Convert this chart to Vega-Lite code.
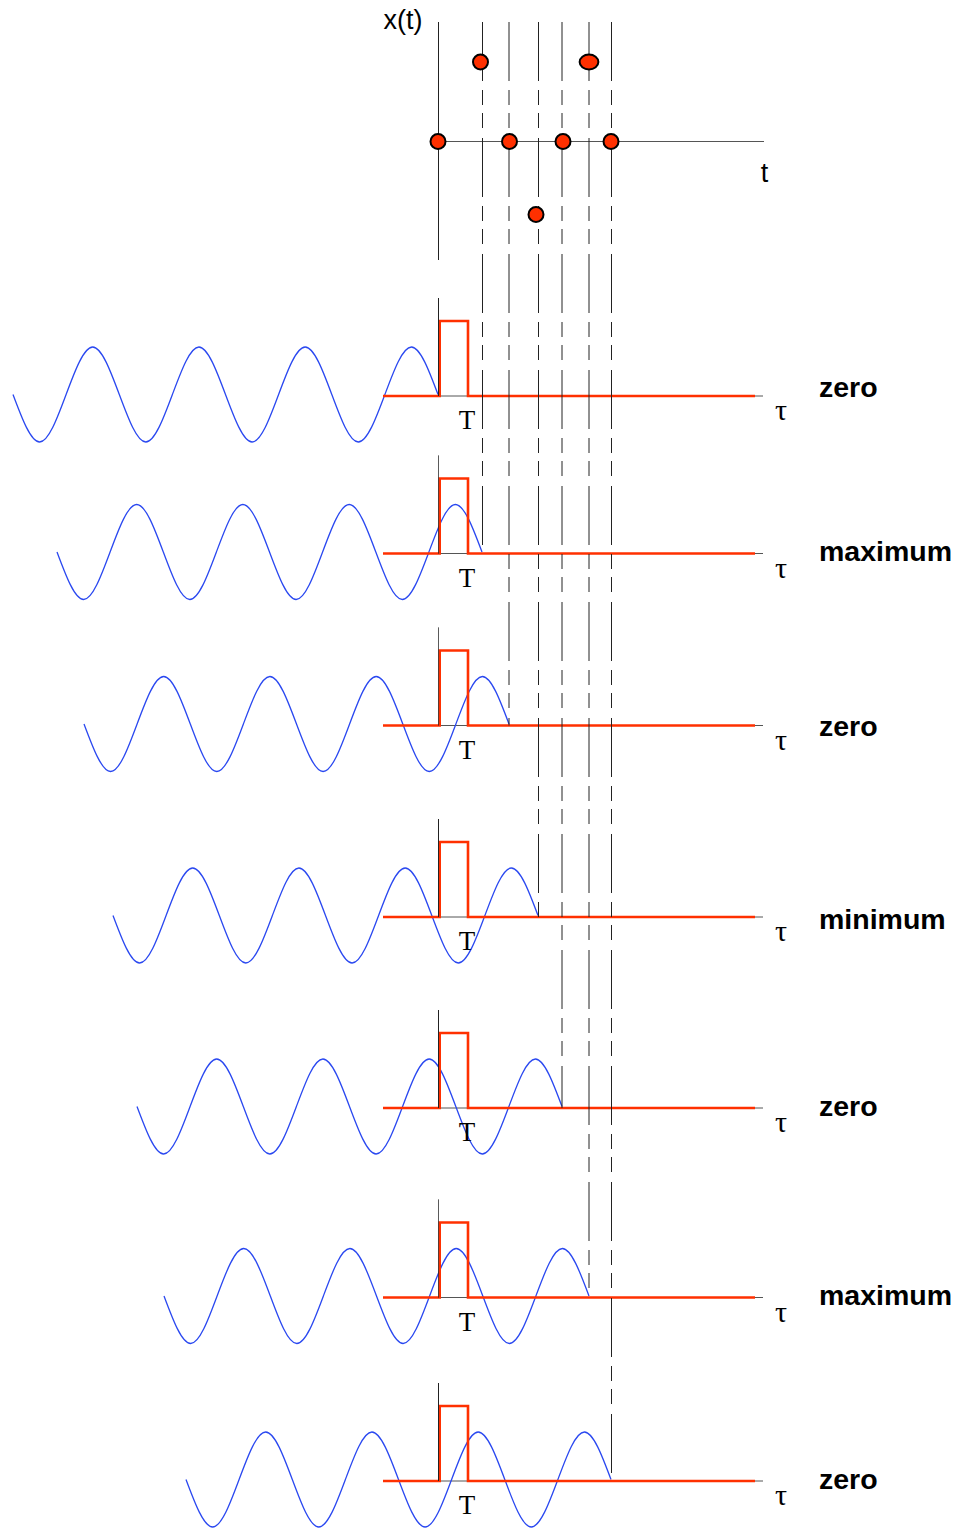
{
  "$schema": "https://vega.github.io/schema/vega-lite/v6.json",
  "width": 956,
  "height": 1528,
  "autosize": "none",
  "padding": 0,
  "background": "white",
  "config": {"view": {"stroke": null}},
  "datasets": {
    "hlines": [
      {"x": 430, "x2": 764, "y": 141.5, "y2": 141.5},
      {"x": 383, "x2": 763, "y": 396, "y2": 396},
      {"x": 383, "x2": 763, "y": 553.5, "y2": 553.5},
      {"x": 383, "x2": 763, "y": 725.5, "y2": 725.5},
      {"x": 383, "x2": 763, "y": 917, "y2": 917},
      {"x": 383, "x2": 763, "y": 1108, "y2": 1108},
      {"x": 383, "x2": 763, "y": 1297.5, "y2": 1297.5},
      {"x": 383, "x2": 763, "y": 1481, "y2": 1481}
    ],
    "vlines": [
      {"x": 438.5, "x2": 438.5, "y": 22, "y2": 260, "kind": "solid"},
      {"x": 438.5, "x2": 438.5, "y": 298, "y2": 396, "kind": "solid"},
      {"x": 438.5, "x2": 438.5, "y": 455.5, "y2": 553.5, "kind": "solid"},
      {"x": 438.5, "x2": 438.5, "y": 627.5, "y2": 725.5, "kind": "solid"},
      {"x": 438.5, "x2": 438.5, "y": 819, "y2": 917, "kind": "solid"},
      {"x": 438.5, "x2": 438.5, "y": 1010, "y2": 1108, "kind": "solid"},
      {"x": 438.5, "x2": 438.5, "y": 1199.5, "y2": 1297.5, "kind": "solid"},
      {"x": 438.5, "x2": 438.5, "y": 1383, "y2": 1481, "kind": "solid"},
      {"x": 482.5, "x2": 482.5, "y": 22, "y2": 553.5, "kind": "dashed"},
      {"x": 509, "x2": 509, "y": 22, "y2": 725.5, "kind": "dashed"},
      {"x": 538.5, "x2": 538.5, "y": 22, "y2": 917, "kind": "dashed"},
      {"x": 562, "x2": 562, "y": 22, "y2": 1108, "kind": "dashed"},
      {"x": 589, "x2": 589, "y": 22, "y2": 1297.5, "kind": "dashed"},
      {"x": 611.5, "x2": 611.5, "y": 22, "y2": 1481, "kind": "dashed"}
    ],
    "pulse": [
      {"r": 1, "i": 0, "x": 383, "y": 396}, {"r": 1, "i": 1, "x": 439.7, "y": 396}, {"r": 1, "i": 2, "x": 439.7, "y": 321}, {"r": 1, "i": 3, "x": 468, "y": 321}, {"r": 1, "i": 4, "x": 468, "y": 396}, {"r": 1, "i": 5, "x": 755, "y": 396},
      {"r": 2, "i": 0, "x": 383, "y": 553.5}, {"r": 2, "i": 1, "x": 439.7, "y": 553.5}, {"r": 2, "i": 2, "x": 439.7, "y": 478.5}, {"r": 2, "i": 3, "x": 468, "y": 478.5}, {"r": 2, "i": 4, "x": 468, "y": 553.5}, {"r": 2, "i": 5, "x": 755, "y": 553.5},
      {"r": 3, "i": 0, "x": 383, "y": 725.5}, {"r": 3, "i": 1, "x": 439.7, "y": 725.5}, {"r": 3, "i": 2, "x": 439.7, "y": 650.5}, {"r": 3, "i": 3, "x": 468, "y": 650.5}, {"r": 3, "i": 4, "x": 468, "y": 725.5}, {"r": 3, "i": 5, "x": 755, "y": 725.5},
      {"r": 4, "i": 0, "x": 383, "y": 917}, {"r": 4, "i": 1, "x": 439.7, "y": 917}, {"r": 4, "i": 2, "x": 439.7, "y": 842}, {"r": 4, "i": 3, "x": 468, "y": 842}, {"r": 4, "i": 4, "x": 468, "y": 917}, {"r": 4, "i": 5, "x": 755, "y": 917},
      {"r": 5, "i": 0, "x": 383, "y": 1108}, {"r": 5, "i": 1, "x": 439.7, "y": 1108}, {"r": 5, "i": 2, "x": 439.7, "y": 1033}, {"r": 5, "i": 3, "x": 468, "y": 1033}, {"r": 5, "i": 4, "x": 468, "y": 1108}, {"r": 5, "i": 5, "x": 755, "y": 1108},
      {"r": 6, "i": 0, "x": 383, "y": 1297.5}, {"r": 6, "i": 1, "x": 439.7, "y": 1297.5}, {"r": 6, "i": 2, "x": 439.7, "y": 1222.5}, {"r": 6, "i": 3, "x": 468, "y": 1222.5}, {"r": 6, "i": 4, "x": 468, "y": 1297.5}, {"r": 6, "i": 5, "x": 755, "y": 1297.5},
      {"r": 7, "i": 0, "x": 383, "y": 1481}, {"r": 7, "i": 1, "x": 439.7, "y": 1481}, {"r": 7, "i": 2, "x": 439.7, "y": 1406}, {"r": 7, "i": 3, "x": 468, "y": 1406}, {"r": 7, "i": 4, "x": 468, "y": 1481}, {"r": 7, "i": 5, "x": 755, "y": 1481}
    ],
    "waves": [
      {"r": 1, "i": 0, "x": 13, "y": 394.5}, {"r": 1, "i": 1, "x": 39.6, "y": 442}, {"r": 1, "i": 2, "x": 66.1, "y": 394.5}, {"r": 1, "i": 3, "x": 92.7, "y": 347}, {"r": 1, "i": 4, "x": 119.3, "y": 394.5}, {"r": 1, "i": 5, "x": 145.8, "y": 442}, {"r": 1, "i": 6, "x": 172.4, "y": 394.5}, {"r": 1, "i": 7, "x": 198.9, "y": 347}, {"r": 1, "i": 8, "x": 225.5, "y": 394.5}, {"r": 1, "i": 9, "x": 252.1, "y": 442}, {"r": 1, "i": 10, "x": 278.6, "y": 394.5}, {"r": 1, "i": 11, "x": 305.2, "y": 347}, {"r": 1, "i": 12, "x": 331.8, "y": 394.5}, {"r": 1, "i": 13, "x": 358.3, "y": 442}, {"r": 1, "i": 14, "x": 384.9, "y": 394.5}, {"r": 1, "i": 15, "x": 411.4, "y": 347}, {"r": 1, "i": 16, "x": 438, "y": 394.5},
      {"r": 2, "i": 0, "x": 57, "y": 552}, {"r": 2, "i": 1, "x": 83.6, "y": 599.5}, {"r": 2, "i": 2, "x": 110.1, "y": 552}, {"r": 2, "i": 3, "x": 136.7, "y": 504.5}, {"r": 2, "i": 4, "x": 163.3, "y": 552}, {"r": 2, "i": 5, "x": 189.8, "y": 599.5}, {"r": 2, "i": 6, "x": 216.4, "y": 552}, {"r": 2, "i": 7, "x": 242.9, "y": 504.5}, {"r": 2, "i": 8, "x": 269.5, "y": 552}, {"r": 2, "i": 9, "x": 296.1, "y": 599.5}, {"r": 2, "i": 10, "x": 322.6, "y": 552}, {"r": 2, "i": 11, "x": 349.2, "y": 504.5}, {"r": 2, "i": 12, "x": 375.8, "y": 552}, {"r": 2, "i": 13, "x": 402.3, "y": 599.5}, {"r": 2, "i": 14, "x": 428.9, "y": 552}, {"r": 2, "i": 15, "x": 455.4, "y": 504.5}, {"r": 2, "i": 16, "x": 482, "y": 552},
      {"r": 3, "i": 0, "x": 84, "y": 724}, {"r": 3, "i": 1, "x": 110.6, "y": 771.5}, {"r": 3, "i": 2, "x": 137.1, "y": 724}, {"r": 3, "i": 3, "x": 163.7, "y": 676.5}, {"r": 3, "i": 4, "x": 190.3, "y": 724}, {"r": 3, "i": 5, "x": 216.8, "y": 771.5}, {"r": 3, "i": 6, "x": 243.4, "y": 724}, {"r": 3, "i": 7, "x": 269.9, "y": 676.5}, {"r": 3, "i": 8, "x": 296.5, "y": 724}, {"r": 3, "i": 9, "x": 323.1, "y": 771.5}, {"r": 3, "i": 10, "x": 349.6, "y": 724}, {"r": 3, "i": 11, "x": 376.2, "y": 676.5}, {"r": 3, "i": 12, "x": 402.8, "y": 724}, {"r": 3, "i": 13, "x": 429.3, "y": 771.5}, {"r": 3, "i": 14, "x": 455.9, "y": 724}, {"r": 3, "i": 15, "x": 482.4, "y": 676.5}, {"r": 3, "i": 16, "x": 509, "y": 724},
      {"r": 4, "i": 0, "x": 113, "y": 915.5}, {"r": 4, "i": 1, "x": 139.6, "y": 963}, {"r": 4, "i": 2, "x": 166.1, "y": 915.5}, {"r": 4, "i": 3, "x": 192.7, "y": 868}, {"r": 4, "i": 4, "x": 219.3, "y": 915.5}, {"r": 4, "i": 5, "x": 245.8, "y": 963}, {"r": 4, "i": 6, "x": 272.4, "y": 915.5}, {"r": 4, "i": 7, "x": 298.9, "y": 868}, {"r": 4, "i": 8, "x": 325.5, "y": 915.5}, {"r": 4, "i": 9, "x": 352.1, "y": 963}, {"r": 4, "i": 10, "x": 378.6, "y": 915.5}, {"r": 4, "i": 11, "x": 405.2, "y": 868}, {"r": 4, "i": 12, "x": 431.8, "y": 915.5}, {"r": 4, "i": 13, "x": 458.3, "y": 963}, {"r": 4, "i": 14, "x": 484.9, "y": 915.5}, {"r": 4, "i": 15, "x": 511.4, "y": 868}, {"r": 4, "i": 16, "x": 538, "y": 915.5},
      {"r": 5, "i": 0, "x": 137, "y": 1106.5}, {"r": 5, "i": 1, "x": 163.6, "y": 1154}, {"r": 5, "i": 2, "x": 190.1, "y": 1106.5}, {"r": 5, "i": 3, "x": 216.7, "y": 1059}, {"r": 5, "i": 4, "x": 243.3, "y": 1106.5}, {"r": 5, "i": 5, "x": 269.8, "y": 1154}, {"r": 5, "i": 6, "x": 296.4, "y": 1106.5}, {"r": 5, "i": 7, "x": 322.9, "y": 1059}, {"r": 5, "i": 8, "x": 349.5, "y": 1106.5}, {"r": 5, "i": 9, "x": 376.1, "y": 1154}, {"r": 5, "i": 10, "x": 402.6, "y": 1106.5}, {"r": 5, "i": 11, "x": 429.2, "y": 1059}, {"r": 5, "i": 12, "x": 455.8, "y": 1106.5}, {"r": 5, "i": 13, "x": 482.3, "y": 1154}, {"r": 5, "i": 14, "x": 508.9, "y": 1106.5}, {"r": 5, "i": 15, "x": 535.4, "y": 1059}, {"r": 5, "i": 16, "x": 562, "y": 1106.5},
      {"r": 6, "i": 0, "x": 164, "y": 1296}, {"r": 6, "i": 1, "x": 190.6, "y": 1343.5}, {"r": 6, "i": 2, "x": 217.1, "y": 1296}, {"r": 6, "i": 3, "x": 243.7, "y": 1248.5}, {"r": 6, "i": 4, "x": 270.3, "y": 1296}, {"r": 6, "i": 5, "x": 296.8, "y": 1343.5}, {"r": 6, "i": 6, "x": 323.4, "y": 1296}, {"r": 6, "i": 7, "x": 349.9, "y": 1248.5}, {"r": 6, "i": 8, "x": 376.5, "y": 1296}, {"r": 6, "i": 9, "x": 403.1, "y": 1343.5}, {"r": 6, "i": 10, "x": 429.6, "y": 1296}, {"r": 6, "i": 11, "x": 456.2, "y": 1248.5}, {"r": 6, "i": 12, "x": 482.8, "y": 1296}, {"r": 6, "i": 13, "x": 509.3, "y": 1343.5}, {"r": 6, "i": 14, "x": 535.9, "y": 1296}, {"r": 6, "i": 15, "x": 562.4, "y": 1248.5}, {"r": 6, "i": 16, "x": 589, "y": 1296},
      {"r": 7, "i": 0, "x": 186, "y": 1479.5}, {"r": 7, "i": 1, "x": 212.6, "y": 1527}, {"r": 7, "i": 2, "x": 239.1, "y": 1479.5}, {"r": 7, "i": 3, "x": 265.7, "y": 1432}, {"r": 7, "i": 4, "x": 292.3, "y": 1479.5}, {"r": 7, "i": 5, "x": 318.8, "y": 1527}, {"r": 7, "i": 6, "x": 345.4, "y": 1479.5}, {"r": 7, "i": 7, "x": 371.9, "y": 1432}, {"r": 7, "i": 8, "x": 398.5, "y": 1479.5}, {"r": 7, "i": 9, "x": 425.1, "y": 1527}, {"r": 7, "i": 10, "x": 451.6, "y": 1479.5}, {"r": 7, "i": 11, "x": 478.2, "y": 1432}, {"r": 7, "i": 12, "x": 504.8, "y": 1479.5}, {"r": 7, "i": 13, "x": 531.3, "y": 1527}, {"r": 7, "i": 14, "x": 557.9, "y": 1479.5}, {"r": 7, "i": 15, "x": 584.4, "y": 1432}, {"r": 7, "i": 16, "x": 611, "y": 1479.5}
    ],
    "dots": [
      {"x": 438, "y": 141.5, "shape": "circle"},
      {"x": 480.5, "y": 62, "shape": "circle"},
      {"x": 509.5, "y": 141.5, "shape": "circle"},
      {"x": 536, "y": 214.5, "shape": "circle"},
      {"x": 563, "y": 141.5, "shape": "circle"},
      {"x": 589, "y": 62, "shape": "ellipse"},
      {"x": 611, "y": 141.5, "shape": "circle"}
    ],
    "labels": [
      {"label": "x(t)", "x": 403, "y": 29, "kind": "sans"},
      {"label": "t", "x": 764.5, "y": 182, "kind": "sans"},
      {"label": "T", "x": 467, "y": 429, "kind": "serif"},
      {"label": "T", "x": 467, "y": 586.5, "kind": "serif"},
      {"label": "T", "x": 467, "y": 758.5, "kind": "serif"},
      {"label": "T", "x": 467, "y": 950, "kind": "serif"},
      {"label": "T", "x": 467, "y": 1141, "kind": "serif"},
      {"label": "T", "x": 467, "y": 1330.5, "kind": "serif"},
      {"label": "T", "x": 467, "y": 1514, "kind": "serif"},
      {"label": "τ", "x": 781, "y": 420, "kind": "tau"},
      {"label": "τ", "x": 781, "y": 577.5, "kind": "tau"},
      {"label": "τ", "x": 781, "y": 749.5, "kind": "tau"},
      {"label": "τ", "x": 781, "y": 941, "kind": "tau"},
      {"label": "τ", "x": 781, "y": 1132, "kind": "tau"},
      {"label": "τ", "x": 781, "y": 1321.5, "kind": "tau"},
      {"label": "τ", "x": 781, "y": 1505, "kind": "tau"},
      {"label": "zero", "x": 819, "y": 397, "kind": "bold"},
      {"label": "maximum", "x": 819, "y": 561, "kind": "bold"},
      {"label": "zero", "x": 819, "y": 736, "kind": "bold"},
      {"label": "minimum", "x": 819, "y": 929, "kind": "bold"},
      {"label": "zero", "x": 819, "y": 1116, "kind": "bold"},
      {"label": "maximum", "x": 819, "y": 1305, "kind": "bold"},
      {"label": "zero", "x": 819, "y": 1489, "kind": "bold"}
    ]
  },
  "layer": [
    {
      "data": {"name": "hlines"},
      "mark": {"type": "rule", "color": "#555555", "strokeWidth": 1},
      "encoding": {
        "x": {"field": "x", "type": "quantitative", "scale": {"domain": [0, 956], "nice": false, "zero": false}, "axis": null},
        "x2": {"field": "x2"},
        "y": {"field": "y", "type": "quantitative", "scale": {"domain": [0, 1528], "nice": false, "zero": false, "reverse": true}, "axis": null},
        "y2": {"field": "y2"}
      }
    },
    {
      "data": {"name": "waves"},
      "mark": {"type": "line", "interpolate": "natural", "color": "#2a48f0", "strokeWidth": 1.3},
      "encoding": {
        "x": {"field": "x", "type": "quantitative", "scale": {"domain": [0, 956], "nice": false, "zero": false}, "axis": null},
        "y": {"field": "y", "type": "quantitative", "scale": {"domain": [0, 1528], "nice": false, "zero": false, "reverse": true}, "axis": null},
        "detail": {"field": "r", "type": "nominal"},
        "order": {"field": "i", "type": "quantitative"}
      }
    },
    {
      "data": {"name": "pulse"},
      "mark": {"type": "line", "color": "#ff3000", "strokeWidth": 2.6, "strokeJoin": "miter"},
      "encoding": {
        "x": {"field": "x", "type": "quantitative", "scale": {"domain": [0, 956], "nice": false, "zero": false}, "axis": null},
        "y": {"field": "y", "type": "quantitative", "scale": {"domain": [0, 1528], "nice": false, "zero": false, "reverse": true}, "axis": null},
        "detail": {"field": "r", "type": "nominal"},
        "order": {"field": "i", "type": "quantitative"}
      }
    },
    {
      "data": {"name": "vlines"},
      "mark": {"type": "rule", "color": "#222222", "strokeWidth": 1},
      "encoding": {
        "x": {"field": "x", "type": "quantitative", "scale": {"domain": [0, 956], "nice": false, "zero": false}, "axis": null},
        "x2": {"field": "x2"},
        "y": {"field": "y", "type": "quantitative", "scale": {"domain": [0, 1528], "nice": false, "zero": false, "reverse": true}, "axis": null},
        "y2": {"field": "y2"},
        "strokeDash": {"field": "kind", "type": "nominal", "scale": {"domain": ["solid", "dashed"], "range": [[1, 0], [59, 9, 15, 8, 15, 10]]}, "legend": null}
      }
    },
    {
      "data": {"name": "dots"},
      "mark": {"type": "point", "filled": true, "fill": "#ff3000", "stroke": "#000000", "strokeWidth": 2, "size": 225, "opacity": 1},
      "encoding": {
        "x": {"field": "x", "type": "quantitative", "scale": {"domain": [0, 956], "nice": false, "zero": false}, "axis": null},
        "y": {"field": "y", "type": "quantitative", "scale": {"domain": [0, 1528], "nice": false, "zero": false, "reverse": true}, "axis": null},
        "shape": {"field": "shape", "type": "nominal", "scale": {"domain": ["circle", "ellipse"], "range": ["circle", "M-1.25,0A1.25,1,0,1,1,1.25,0A1.25,1,0,1,1,-1.25,0Z"]}, "legend": null}
      }
    },
    {
      "data": {"name": "labels"},
      "transform": [{"filter": "datum.kind === 'sans'"}],
      "mark": {"type": "text", "font": "Liberation Sans", "fontSize": 27, "align": "center", "baseline": "alphabetic", "color": "#000000"},
      "encoding": {
        "x": {"field": "x", "type": "quantitative", "scale": {"domain": [0, 956], "nice": false, "zero": false}, "axis": null},
        "y": {"field": "y", "type": "quantitative", "scale": {"domain": [0, 1528], "nice": false, "zero": false, "reverse": true}, "axis": null},
        "text": {"field": "label"}
      }
    },
    {
      "data": {"name": "labels"},
      "transform": [{"filter": "datum.kind === 'serif'"}],
      "mark": {"type": "text", "font": "Liberation Serif", "fontSize": 27, "align": "center", "baseline": "alphabetic", "color": "#000000"},
      "encoding": {
        "x": {"field": "x", "type": "quantitative", "scale": {"domain": [0, 956], "nice": false, "zero": false}, "axis": null},
        "y": {"field": "y", "type": "quantitative", "scale": {"domain": [0, 1528], "nice": false, "zero": false, "reverse": true}, "axis": null},
        "text": {"field": "label"}
      }
    },
    {
      "data": {"name": "labels"},
      "transform": [{"filter": "datum.kind === 'tau'"}],
      "mark": {"type": "text", "font": "Liberation Serif", "fontSize": 30, "align": "center", "baseline": "alphabetic", "color": "#000000"},
      "encoding": {
        "x": {"field": "x", "type": "quantitative", "scale": {"domain": [0, 956], "nice": false, "zero": false}, "axis": null},
        "y": {"field": "y", "type": "quantitative", "scale": {"domain": [0, 1528], "nice": false, "zero": false, "reverse": true}, "axis": null},
        "text": {"field": "label"}
      }
    },
    {
      "data": {"name": "labels"},
      "transform": [{"filter": "datum.kind === 'bold'"}],
      "mark": {"type": "text", "font": "Liberation Sans", "fontSize": 28.5, "fontWeight": "bold", "align": "left", "baseline": "alphabetic", "color": "#000000"},
      "encoding": {
        "x": {"field": "x", "type": "quantitative", "scale": {"domain": [0, 956], "nice": false, "zero": false}, "axis": null},
        "y": {"field": "y", "type": "quantitative", "scale": {"domain": [0, 1528], "nice": false, "zero": false, "reverse": true}, "axis": null},
        "text": {"field": "label"}
      }
    }
  ]
}
